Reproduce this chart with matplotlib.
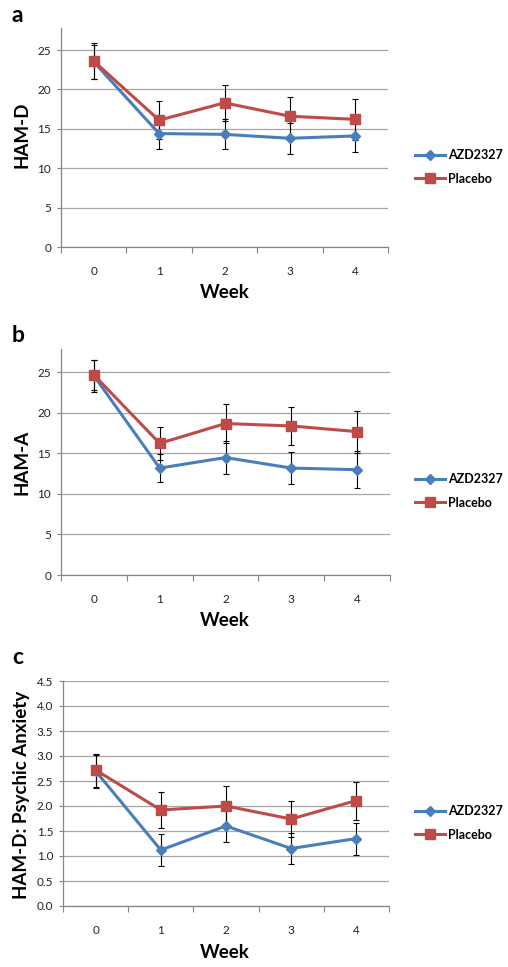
import matplotlib
matplotlib.use("Agg")
import matplotlib.pyplot as plt
import numpy as np

plt.rcParams['font.family'] = ['Lato', 'DejaVu Sans']

weeks = [0, 1, 2, 3, 4]

# panel a: HAM-D
a_azd = [23.5, 14.4, 14.3, 13.8, 14.1]
a_azd_err = [2.2, 1.95, 1.9, 2.0, 2.1]
a_pbo = [23.6, 16.1, 18.3, 16.6, 16.2]
a_pbo_err = [2.3, 2.4, 2.3, 2.5, 2.6]

# panel b: HAM-A
b_azd = [24.6, 13.2, 14.5, 13.2, 13.0]
b_azd_err = [1.95, 1.75, 2.05, 2.0, 2.3]
b_pbo = [24.7, 16.25, 18.7, 18.4, 17.7]
b_pbo_err = [1.9, 2.05, 2.4, 2.4, 2.6]

# panel c: HAM-D psychic anxiety
c_azd = [2.70, 1.12, 1.60, 1.15, 1.35]
c_azd_err = [0.33, 0.32, 0.32, 0.31, 0.32]
c_pbo = [2.72, 1.92, 2.00, 1.74, 2.11]
c_pbo_err = [0.33, 0.36, 0.40, 0.36, 0.38]

blue = '#4a7ebb'
red = '#be4b48'
W, H = 508, 967

fig = plt.figure(figsize=(W / 100, H / 100), dpi=100)

panels = [
    # letter, ylabel, data, yticks, ylim, axes px (left, right, top, bottom), letter y, ylabel y, week y, legend y
    ('a', 'HAM-D', (a_azd, a_azd_err, a_pbo, a_pbo_err), np.arange(0, 26, 5), 27.8,
     (61, 388, 28, 247), 16, 135, 293, 167, '%d'),
    ('b', 'HAM-A', (b_azd, b_azd_err, b_pbo, b_pbo_err), np.arange(0, 26, 5), 27.9,
     (61, 390, 349, 575), 336, 462, 620, 491, '%d'),
    ('c', 'HAM-D: Psychic Anxiety', (c_azd, c_azd_err, c_pbo, c_pbo_err), np.arange(0, 4.6, 0.5), 4.5,
     (63, 389, 681, 906), 657, 795, 952, 823, '%.1f'),
]

for letter, ylab, data, yt, ymax, box, ly, yly, wy, legy, fmt in panels:
    l, r, t, b = box
    ax = fig.add_axes([l / W, 1 - b / H, (r - l) / W, (b - t) / H])
    azd, azd_err, pbo, pbo_err = data

    ax.errorbar(weeks, azd, yerr=azd_err, fmt='none', ecolor='black', elinewidth=0.8,
                capsize=2.3, capthick=0.8, zorder=3)
    ax.errorbar(weeks, pbo, yerr=pbo_err, fmt='none', ecolor='black', elinewidth=0.8,
                capsize=2.3, capthick=0.8, zorder=3)
    ax.plot(weeks, azd, color=blue, lw=2.2, marker='D', ms=5.5, label='AZD2327', zorder=4)
    ax.plot(weeks, pbo, color=red, lw=2.2, marker='s', ms=7.5, label='Placebo', zorder=5)

    ax.set_xlim(-0.5, 4.5)
    ax.set_ylim(0, ymax)
    ax.set_yticks(yt)
    ax.set_yticklabels([fmt % v for v in yt])
    ax.set_xticks(weeks)
    ax.set_xticks(np.arange(-0.5, 4.6, 1), minor=True)
    ax.tick_params(axis='x', which='major', length=0, pad=14, labelsize=8.5, colors='#222222')
    ax.tick_params(axis='x', which='minor', length=4, width=0.8, color='#868686', direction='out')
    ax.tick_params(axis='y', length=3, width=0.8, color='#868686', pad=4, labelsize=8.5,
                   labelcolor='#222222')
    ax.yaxis.grid(True, color='#a6a6a6', lw=0.9)
    ax.set_axisbelow(True)
    for s in ['top', 'right']:
        ax.spines[s].set_visible(False)
    for s in ['left', 'bottom']:
        ax.spines[s].set_color('#868686')
        ax.spines[s].set_linewidth(0.9)

    fig.text(12 / W, 1 - ly / H, letter, fontsize=16.5, fontweight='bold', va='center', ha='left')
    fig.text(22 / W, 1 - yly / H, ylab, rotation=90, fontsize=13.5, fontweight='bold',
             va='center', ha='center')
    fig.text(225 / W, 1 - wy / H, 'Week', fontsize=13.5, fontweight='bold', va='center', ha='center')

    ax.legend(loc='center left', bbox_to_anchor=(404 / W, 1 - legy / H),
              bbox_transform=fig.transFigure, frameon=False, handlelength=2.4,
              handletextpad=0.2, labelspacing=0.9, prop={'size': 9, 'weight': 'bold'})

fig.savefig('out.png', dpi=100)
